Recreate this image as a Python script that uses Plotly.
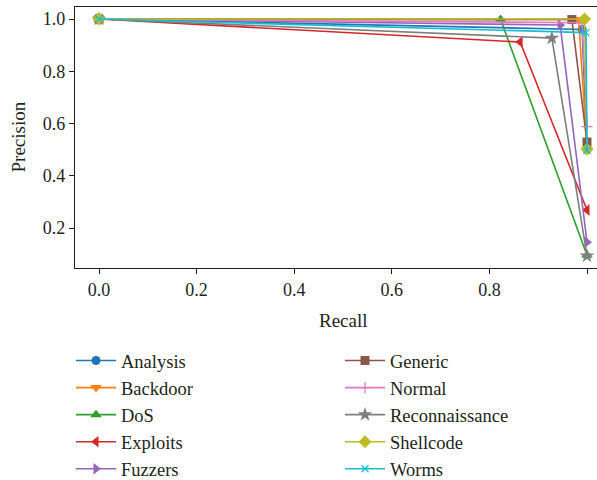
import plotly.graph_objects as go

classes = ["Analysis", "Backdoor", "DoS", "Exploits", "Fuzzers",
           "Generic", "Normal", "Reconnaissance", "Shellcode", "Worms"]
recall_mid = [0.990, 0.983, 0.823, 0.863, 0.945, 0.969, 0.990, 0.928, 0.995, 0.998]
prec_mid = [0.960, 0.998, 0.998, 0.912, 0.977, 0.998, 0.986, 0.927, 1.000, 0.948]
prec_end = [0.500, 0.500, 0.096, 0.269, 0.146, 0.529, 0.588, 0.093, 0.502, 0.498]

colors = ["#1f77b4", "#ff7f0e", "#2ca02c", "#d62728", "#9467bd",
          "#8c564b", "#e377c2", "#7f7f7f", "#bcbd22", "#17becf"]
symbols = ["circle", "triangle-down", "triangle-up", "triangle-left", "triangle-right",
           "square", "cross-thin", "star", "diamond", "x-thin"]
sizes = [9, 10, 10, 10, 10, 9, 8, 11, 10, 7]

x_ticks = [0.0, 0.2, 0.4, 0.6, 0.8, 1.0]
y_ticks = [0.2, 0.4, 0.6, 0.8, 1.0]

FONT = "Liberation Serif"
TXT = "#231f20"

fig = go.Figure()
for i, name in enumerate(classes):
    fig.add_trace(go.Scatter(
        x=[0.0, recall_mid[i], 1.0],
        y=[1.0, prec_mid[i], prec_end[i]],
        mode="lines+markers",
        name=name,
        legend="legend" if i < 5 else "legend2",
        line=dict(color=colors[i], width=1.6),
        marker=dict(symbol=symbols[i], size=sizes[i], color=colors[i],
                    line=dict(color=colors[i], width=1.3 if "thin" in symbols[i] else 0)),
    ))

legend_common = dict(
    font=dict(family=FONT, size=18.5, color=TXT),
    bgcolor="rgba(0,0,0,0)",
    xref="container", yref="container",
    xanchor="left", yanchor="top",
    itemwidth=40,
)

fig.update_layout(
    width=597, height=480,
    margin=dict(l=75, r=0, t=7, b=212, autoexpand=False),
    paper_bgcolor="white", plot_bgcolor="white",
    font=dict(family=FONT, size=18, color=TXT),
    showlegend=True,
    legend=dict(x=71 / 597, y=1 - 342 / 480, **legend_common),
    legend2=dict(x=340 / 597, y=1 - 342 / 480, **legend_common),
    xaxis=dict(
        range=[-0.0492, 1.0205],
        tickvals=x_ticks, ticktext=[f"{v:.1f}" for v in x_ticks],
        showline=True, linecolor="#231f20", linewidth=1.3, mirror=True,
        ticks="outside", ticklen=5, tickcolor="#231f20", tickwidth=1.2,
        showgrid=False, zeroline=False, automargin=False,
        tickfont=dict(family=FONT, size=18, color=TXT),
    ),
    yaxis=dict(
        range=[0.047, 1.046],
        tickvals=y_ticks, ticktext=[f"{v:.1f}" for v in y_ticks],
        showline=True, linecolor="#231f20", linewidth=1.3,
        ticks="outside", ticklen=5, tickcolor="#231f20", tickwidth=1.2,
        showgrid=False, zeroline=False, automargin=False,
        tickfont=dict(family=FONT, size=18, color=TXT),
    ),
    annotations=[
        dict(text="Recall", xref="paper", yref="paper",
             x=(343 - 75) / 522, y=-(320 - 268) / 261, xanchor="center", yanchor="middle",
             showarrow=False, font=dict(family=FONT, size=19, color=TXT)),
        dict(text="Precision", xref="paper", yref="paper",
             x=(18 - 75) / 522, y=0.5, xanchor="center", yanchor="middle", textangle=-90,
             showarrow=False, font=dict(family=FONT, size=19, color=TXT)),
    ],
)

fig.write_html("out.html")
